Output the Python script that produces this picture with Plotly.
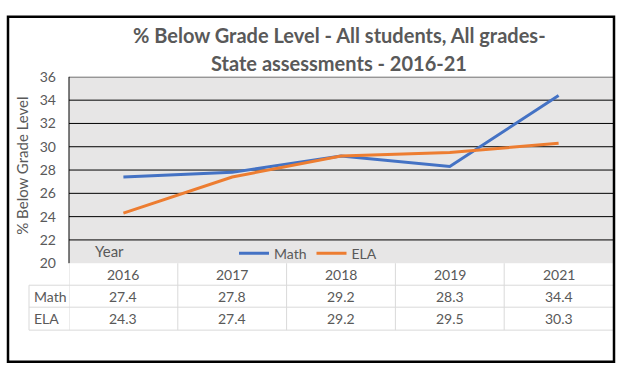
import plotly.graph_objects as go

years = ["2016", "2017", "2018", "2019", "2021"]
math = [27.4, 27.8, 29.2, 28.3, 34.4]
ela = [24.3, 27.4, 29.2, 29.5, 30.3]
series_names = ["Math", "ELA"]
y_ticks = [20, 22, 24, 26, 28, 30, 32, 34, 36]
title_lines = ["% Below Grade Level - All students, All grades-", "State assessments - 2016-21"]
y_title = "% Below Grade Level"

W, H = 625, 384
FONT = "Lato"
GRAY = "#595959"

def px(x):
    return x / W

def py(y):
    return 1 - y / H

L, R, T, B = 69, 613, 71, 266
ROW1, ROW2, ROW3 = 289, 312, 336
LABEL_L = 29

fig = go.Figure()
xs = list(range(len(years)))
fig.add_trace(go.Scatter(x=xs, y=math, mode="lines", name=series_names[0],
                         line=dict(color="#4472c4", width=3)))
fig.add_trace(go.Scatter(x=xs, y=ela, mode="lines", name=series_names[1],
                         line=dict(color="#ed7d31", width=3)))

shapes = []
for v in y_ticks[1:]:
    shapes.append(dict(type="line", xref="paper", yref="y", x0=px(L), x1=px(R), y0=v, y1=v,
                       line=dict(color="black", width=1), layer="below"))
shapes.append(dict(type="line", xref="paper", yref="paper", x0=px(L), x1=px(L), y0=py(B), y1=py(T),
                   line=dict(color="black", width=1)))
tc = "#d9d9d9"
for yy in [ROW1, ROW2, ROW3]:
    shapes.append(dict(type="line", xref="paper", yref="paper", x0=px(LABEL_L), x1=px(R), y0=py(yy), y1=py(yy),
                       line=dict(color=tc, width=1)))
shapes.append(dict(type="line", xref="paper", yref="paper", x0=px(LABEL_L), x1=px(LABEL_L), y0=py(ROW1), y1=py(ROW3),
                   line=dict(color=tc, width=1)))
for i in range(len(years)):
    xv = i - 0.5
    shapes.append(dict(type="line", xref="x", yref="paper", x0=xv, x1=xv, y0=py(B), y1=py(ROW3),
                       line=dict(color=tc, width=1)))
shapes.append(dict(type="rect", xref="paper", yref="paper", x0=px(8), x1=px(614), y0=py(369), y1=py(8),
                   line=dict(color="black", width=2.5)))

ann = []
ann.append(dict(text=title_lines[0], x=px(339), y=py(27), xref="paper", yref="paper", showarrow=False,
                font=dict(family=FONT, size=20, color=GRAY, weight="bold"), xanchor="center", yanchor="middle"))
ann.append(dict(text=title_lines[1], x=px(339), y=py(57), xref="paper", yref="paper", showarrow=False,
                font=dict(family=FONT, size=20, color=GRAY, weight="bold"), xanchor="center", yanchor="middle"))
ann.append(dict(text=y_title, x=px(22), y=py(164), xref="paper", yref="paper", showarrow=False, textangle=-90,
                font=dict(family=FONT, size=15, color=GRAY), xanchor="center", yanchor="middle"))
ann.append(dict(text="Year", x=px(93), y=py(253), xref="paper", yref="paper", showarrow=False,
                font=dict(family=FONT, size=15, color=GRAY), xanchor="left", yanchor="middle"))
for i, yr in enumerate(years):
    ann.append(dict(text=yr, x=i, y=py((B + ROW1) / 2), xref="x", yref="paper", showarrow=False,
                    font=dict(family=FONT, size=14, color=GRAY), xanchor="center", yanchor="middle"))
    ann.append(dict(text=f"{math[i]:.1f}", x=i, y=py((ROW1 + ROW2) / 2), xref="x", yref="paper", showarrow=False,
                    font=dict(family=FONT, size=14, color=GRAY), xanchor="center", yanchor="middle"))
    ann.append(dict(text=f"{ela[i]:.1f}", x=i, y=py((ROW2 + ROW3) / 2), xref="x", yref="paper", showarrow=False,
                    font=dict(family=FONT, size=14, color=GRAY), xanchor="center", yanchor="middle"))
for name, (a, b) in zip(series_names, [(ROW1, ROW2), (ROW2, ROW3)]):
    ann.append(dict(text=name, x=px(32), y=py((a + b) / 2), xref="paper", yref="paper", showarrow=False,
                    font=dict(family=FONT, size=14, color=GRAY), xanchor="left", yanchor="middle"))

fig.update_layout(
    width=W, height=H,
    margin=dict(l=0, r=0, t=0, b=0),
    paper_bgcolor="white",
    plot_bgcolor="#e7e6e6",
    showlegend=True,
    legend=dict(orientation="h", x=px(234), y=py(256), xanchor="left", yanchor="middle",
                bgcolor="rgba(0,0,0,0)", font=dict(family=FONT, size=14, color=GRAY),
                itemwidth=30, tracegroupgap=0),
    xaxis=dict(domain=[px(L), px(R)], range=[-0.5, len(years) - 0.5], showgrid=False, zeroline=False,
               showticklabels=False, showline=False, fixedrange=True),
    yaxis=dict(domain=[py(B), py(T)], range=[y_ticks[0], y_ticks[-1]], tickvals=y_ticks, showgrid=False,
               zeroline=False, showline=False, ticks="", ticklabelstandoff=12,
               tickfont=dict(family=FONT, size=14, color=GRAY), fixedrange=True),
    shapes=shapes,
    annotations=ann,
    font=dict(family=FONT, color=GRAY),
)

fig.write_html("out.html", config={"displayModeBar": False},
               post_script="document.body.style.margin='0';document.body.style.overflow='hidden';")
